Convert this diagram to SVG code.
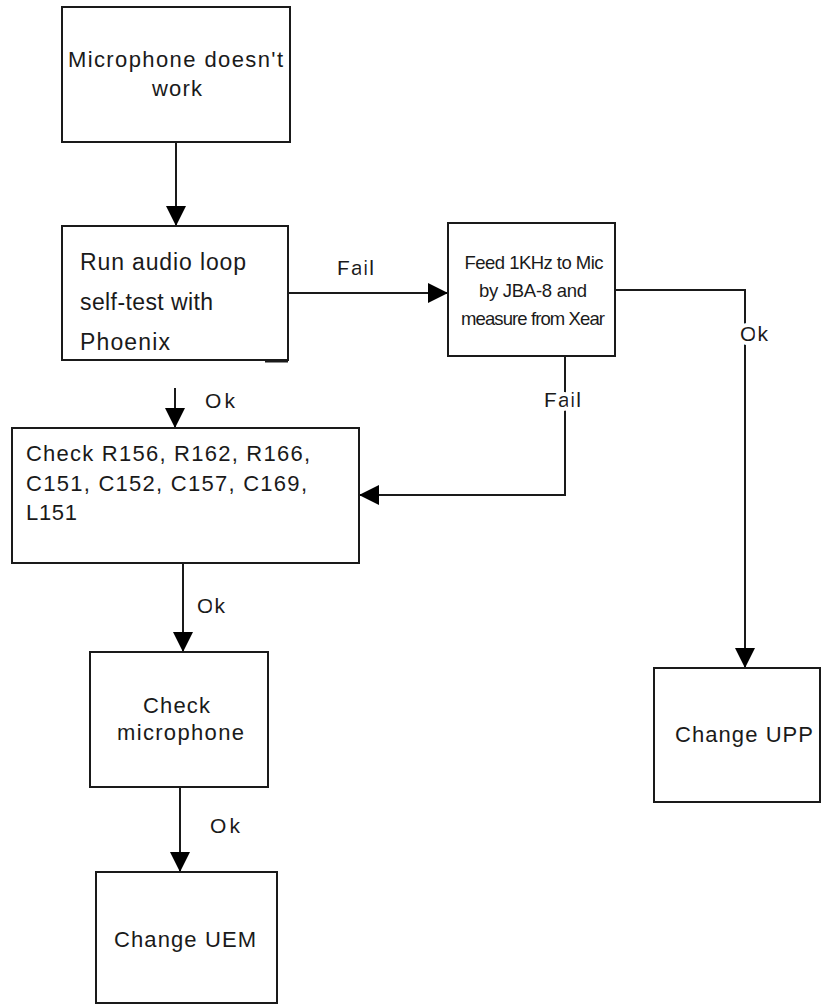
<svg xmlns="http://www.w3.org/2000/svg" width="822" height="1006" viewBox="0 0 822 1006">
<defs>
<style>
.box{fill:#fff;stroke:#1a1a1a;stroke-width:2}
.t{font-family:"Liberation Sans",Arial,sans-serif;font-size:22px;fill:#1a1a1a}
.t2{font-family:"Liberation Sans",Arial,sans-serif;font-size:23px;fill:#1a1a1a}
.t3{font-family:"Liberation Sans",Arial,sans-serif;font-size:18.5px;fill:#1a1a1a;text-anchor:middle}
.conn{fill:none;stroke:#1a1a1a;stroke-width:2}
.lbl{font-family:"Liberation Sans",Arial,sans-serif;font-size:21px;fill:#1a1a1a;stroke:#fff;stroke-width:8;paint-order:stroke}
</style>
<marker id="ah" viewBox="0 0 20 20" refX="20" refY="10" markerWidth="20" markerHeight="20" markerUnits="userSpaceOnUse" orient="auto">
<path d="M0,0 L20,10 L0,20 z" fill="#000"/>
</marker>
</defs>
<rect width="822" height="1006" fill="#fff"/>
<g id="connectors">
<path class="conn" d="M176,142 L176,226" marker-end="url(#ah)"/>
<path class="conn" d="M288,293 L448,293" marker-end="url(#ah)"/>
<path class="conn" d="M175,388 L175,428" marker-end="url(#ah)"/>
<path class="conn" d="M565,356 L565,495 L359,495" marker-end="url(#ah)"/>
<path class="conn" d="M615,290 L745,290 L745,668" marker-end="url(#ah)"/>
<path class="conn" d="M183,563 L183,652" marker-end="url(#ah)"/>
<path class="conn" d="M180,787 L180,872" marker-end="url(#ah)"/>
<text class="lbl" x="337" y="275" textLength="37" lengthAdjust="spacing">Fail</text>
<text class="lbl" x="205" y="408" textLength="30" lengthAdjust="spacing">Ok</text>
<text class="lbl" x="544" y="407" textLength="37" lengthAdjust="spacing">Fail</text>
<text class="lbl" x="740" y="341" textLength="28" lengthAdjust="spacing">Ok</text>
<text class="lbl" x="197" y="613" textLength="28" lengthAdjust="spacing">Ok</text>
<text class="lbl" x="210" y="833" textLength="30" lengthAdjust="spacing">Ok</text>
</g>
<g id="n1">
<rect class="box" x="62" y="7" width="228" height="135"/>
<text class="t" x="68" y="67" textLength="215" lengthAdjust="spacing">Microphone doesn't</text>
<text class="t" x="152" y="96" textLength="50" lengthAdjust="spacing">work</text>
</g>
<g id="n2">
<rect class="box" x="62" y="226" width="226" height="134"/>
<line x1="265" y1="361.5" x2="288" y2="361.5" stroke="#1a1a1a" stroke-width="2"/>
<text class="t2" x="80" y="270" textLength="166" lengthAdjust="spacing">Run audio loop</text>
<text class="t2" x="80" y="310" textLength="133" lengthAdjust="spacing">self-test with</text>
<text class="t2" x="80" y="350" textLength="90" lengthAdjust="spacing">Phoenix</text>
</g>
<g id="n3">
<rect class="box" x="448" y="223" width="167" height="133"/>
<text class="t3" x="534" y="269" textLength="139" lengthAdjust="spacing">Feed 1KHz to Mic</text>
<text class="t3" x="533" y="297" textLength="108" lengthAdjust="spacing">by JBA-8 and</text>
<text class="t3" x="533" y="325" textLength="144" lengthAdjust="spacing">measure from Xear</text>
</g>
<g id="n4">
<rect class="box" x="12" y="428" width="347" height="135"/>
<text class="t" x="26" y="461" textLength="284" lengthAdjust="spacing">Check R156, R162, R166,</text>
<text class="t" x="26" y="491" textLength="281" lengthAdjust="spacing">C151, C152, C157, C169,</text>
<text class="t" x="26" y="520" textLength="51" lengthAdjust="spacing">L151</text>
</g>
<g id="n5">
<rect class="box" x="90" y="652" width="178" height="135"/>
<text class="t" x="143" y="713" textLength="67" lengthAdjust="spacing">Check</text>
<text class="t" x="117" y="740" textLength="127" lengthAdjust="spacing">microphone</text>
</g>
<g id="n6">
<rect class="box" x="96" y="872" width="181" height="131"/>
<text class="t" x="114" y="947" textLength="142" lengthAdjust="spacing">Change UEM</text>
</g>
<g id="n7">
<rect class="box" x="654" y="668" width="166" height="134"/>
<text class="t" x="675" y="742" textLength="138" lengthAdjust="spacing">Change UPP</text>
</g>
</svg>
